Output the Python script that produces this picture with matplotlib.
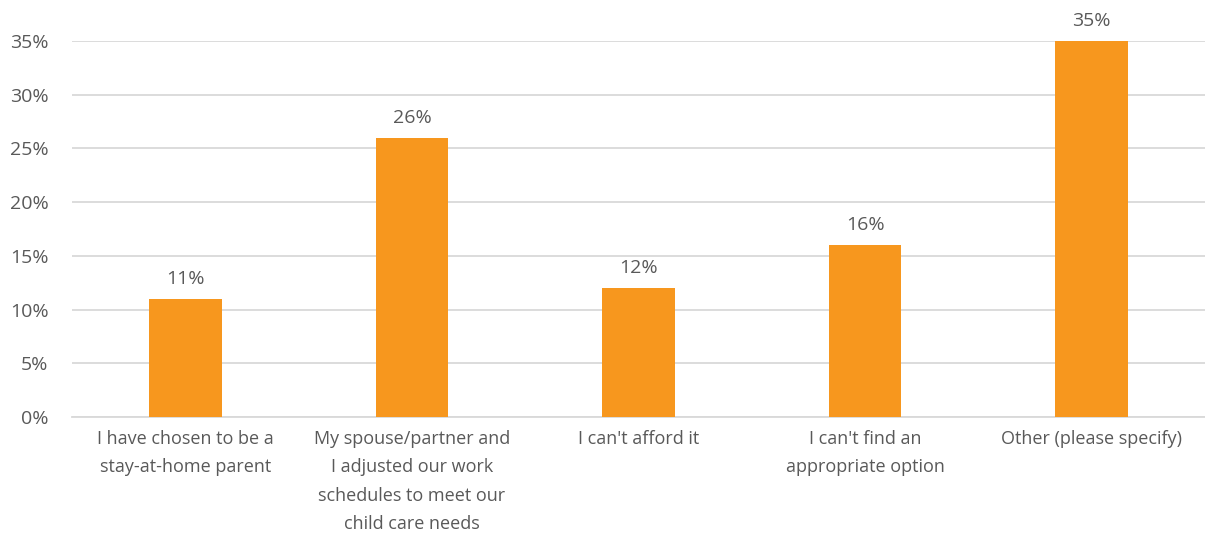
import matplotlib
matplotlib.use('Agg')
import matplotlib.pyplot as plt
import numpy as np
from matplotlib.ticker import FuncFormatter

categories = [
    "I have chosen to be a\nstay-at-home parent",
    "My spouse/partner and\nI adjusted our work\nschedules to meet our\nchild care needs",
    "I can't afford it",
    "I can't find an\nappropriate option",
    "Other (please specify)",
]
values = [11, 26, 12, 16, 35]
y_ticks = [0, 5, 10, 15, 20, 25, 30, 35]

bar_color = '#F7971E'
text_color = '#595959'
grid_color = '#D9D9D9'

plt.rcParams['font.family'] = ['Open Sans', 'DejaVu Sans']

fig = plt.figure(figsize=[12.05, 5.33], dpi=100)
ax = fig.add_axes([0.0598, 0.2176, 0.9402, 0.7054])

x = np.arange(len(categories))
bars = ax.bar(x, values, width=0.32, color=bar_color, zorder=3)

for xi, v in zip(x, values):
    ax.annotate(f"{v}%", xy=(xi, v), xytext=(0, 8), textcoords='offset points',
                ha='center', va='bottom', fontsize=14, color=text_color)

ax.set_xlim(-0.5, len(categories) - 0.5)
ax.set_ylim(0, 35)
ax.set_yticks(y_ticks)
ax.yaxis.set_major_formatter(FuncFormatter(lambda v, p: f"{v:.0f}%"))
ax.set_xticks(x)
ax.set_xticklabels(categories, fontsize=13, color=text_color, linespacing=1.75)

ax.tick_params(axis='y', length=0, labelsize=14, labelcolor=text_color, pad=17)
ax.tick_params(axis='x', length=0, pad=9)
ax.grid(axis='y', color=grid_color, linewidth=1.3, zorder=0)
for side in ['top', 'right', 'left']:
    ax.spines[side].set_visible(False)
ax.spines['bottom'].set_color(grid_color)
ax.spines['bottom'].set_linewidth(1.3)

plt.savefig(fname="out.png", dpi=100)
